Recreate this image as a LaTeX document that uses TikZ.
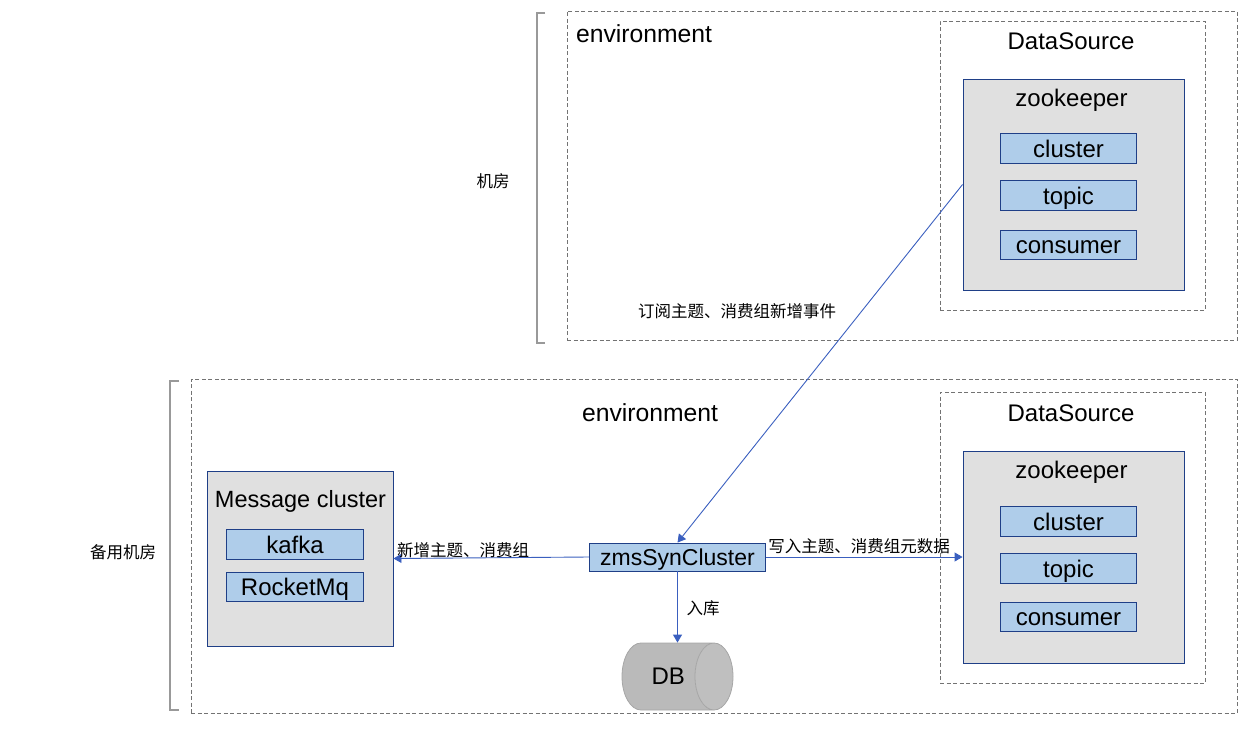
\documentclass[tikz,border=0pt]{standalone}
\usepackage{fontspec}
\setmainfont{Liberation Sans}
\newfontfamily\cjk{Noto Sans CJK SC}
\usetikzlibrary{arrows.meta,shapes.geometric}
\definecolor{boxgrey}{HTML}{E0E0E0}
\definecolor{boxblue}{HTML}{AFCDEA}
\definecolor{boxline}{HTML}{1F3F87}
\definecolor{flowline}{HTML}{3A5FBF}
\providecommand\bigfont{\fontsize{24}{28}\selectfont}
\providecommand\smallfont{\fontsize{16.5}{20}\selectfont\cjk}

\begin{document}
\begin{tikzpicture}[x=1pt, y=-1pt]
  \tikzstyle{envbox} = [rectangle, draw=black!55, dash pattern=on 4pt off 2.5pt, line width=.7pt, inner sep=0pt]
  \tikzstyle{store} = [rectangle, draw=boxline, fill=boxgrey, line width=.9pt, inner sep=0pt, font=\bigfont]
  \tikzstyle{item} = [rectangle, draw=boxline, fill=boxblue, line width=.9pt, inner sep=0pt,
                      minimum width=136.5pt, minimum height=29.5pt, text height=17.3pt, text depth=0pt, font=\bigfont]
  \tikzstyle{title} = [inner sep=0pt, font=\bigfont]
  \tikzstyle{note} = [inner sep=0pt, font=\smallfont]
  \tikzstyle{flow} = [-{Triangle[length=8pt,width=9pt]}, draw=flowline, line width=.9pt]
  \tikzstyle{bracket} = [draw=black!40, line width=2pt]

\useasboundingbox (0,0) rectangle (1252,728);

% machine room
\node[envbox, minimum width=670pt, minimum height=329pt] (env) at (902,175.5) {};
\node[title, font=\fontsize{24.7}{28}\selectfont] (envtitle) at (644,34) {environment};
\node[envbox, minimum width=265pt, minimum height=289pt] (ds) at (1072.5,165.5) {};
\node[title] (dstitle) at (1071,41) {DataSource};
\node[store, minimum width=221pt, minimum height=211pt, label={[font=\bigfont, shift={(-2pt,-10pt)}, inner sep=0pt, anchor=north]north:zookeeper}] (zk) at (1073.5,184.5) {};
\node[item] (cluster) at (1068.5,148.5) {cluster};
\node[item, below of=cluster, node distance=47pt] (topic) {topic};
\node[item, below of=topic, node distance=49.5pt] (consumer) {consumer};

% standby room
\node[envbox, minimum width=1046pt, minimum height=334pt] (envb) at (714,546) {};
\node[title, font=\fontsize{24.7}{28}\selectfont] (envbtitle) at (650,413) {environment};
\node[envbox, minimum width=265pt, minimum height=291pt] (dsb) at (1072.5,537.5) {};
\node[title] (dsbtitle) at (1071,413) {DataSource};
\node[store, minimum width=221pt, minimum height=212pt, label={[font=\bigfont, shift={(-2pt,-10pt)}, inner sep=0pt, anchor=north]north:zookeeper}] (zkb) at (1073.5,557) {};
\node[item] (clusterb) at (1068.5,521.5) {cluster};
\node[item, below of=clusterb, node distance=47pt] (topicb) {topic};
\node[item, below of=topicb, node distance=48.5pt] (consumerb) {consumer};

\node[store, minimum width=186pt, minimum height=175pt] (msg) at (300,558.5) {};
\node[title, font=\fontsize{23.5}{28}\selectfont] (msgtitle) at (300.5,501.5) {Message cluster};
\node[item] (kafka) at (295,544.5) {kafka};
\node[item, below of=kafka, node distance=42.5pt] (rocket) {RocketMq};

\node[item, minimum width=176.5pt, minimum height=28pt, font=\fontsize{23}{28}\selectfont] (zms) at (677.5,557) {zmsSynCluster};
\node[cylinder, shape aspect=1.64, anchor=shape center, draw=black!35, line width=.8pt, minimum width=67pt, minimum height=111pt,
      font=\bigfont, cylinder uses custom fill, cylinder body fill=black!27, cylinder end fill=black!25] (db) at (677.5,676.5) {\hspace*{9pt}DB};

% side labels
\node[note] (room) at (493,181) {机房};
\node[note] (roomb) at (123,552) {备用机房};
\draw[bracket] (545,13) -- (537,13) -- (537,343) -- (545,343);
\draw[bracket] (179,381) -- (170,381) -- (170,710) -- (179,710);

\draw[flow] (zk.west) -- (zms.north);
\draw[flow] (zms.west) -- (msg.east);
\draw[flow] (zms.east) -- (zkb.west);
\draw[flow] (zms.south) -- (db.shape center |- db.north);
\node[note] (subscribe) at (737,311) {订阅主题、消费组新增事件};
\node[note] (create) at (463,550) {新增主题、消费组};
\node[note] (write) at (859,546) {写入主题、消费组元数据};
\node[note] (save) at (703,608) {入库};
\end{tikzpicture}
\end{document}
